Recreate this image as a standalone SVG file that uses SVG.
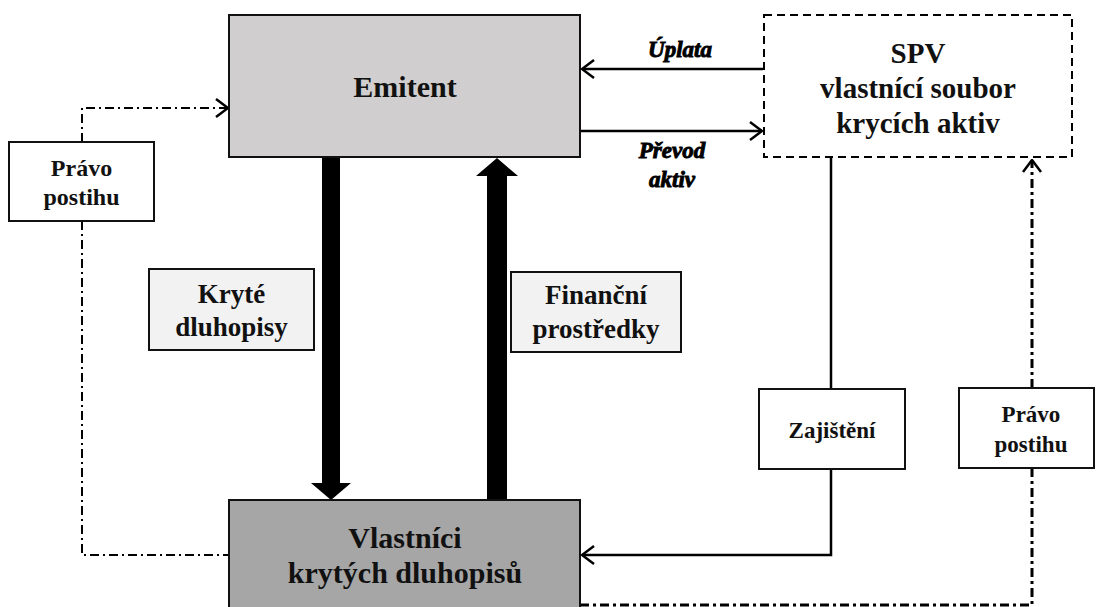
<svg xmlns="http://www.w3.org/2000/svg" width="1097" height="607" viewBox="0 0 1097 607">
  <style>
    .lbl { font-family: 'Liberation Serif', 'Times New Roman', serif; font-weight: 700; fill: #111; text-anchor: middle; }
    .box { stroke: #111; stroke-width: 2; }
    .solid { stroke: #000; stroke-width: 2.5; fill: none; }
    .dd { stroke: #000; stroke-width: 2; fill: none; stroke-dasharray: 9 4 2 4; }
    .dd2 { stroke: #000; stroke-width: 3; fill: none; stroke-dasharray: 9 4 3 4; }
    .it { font-family: 'Liberation Serif', 'Times New Roman', serif; font-weight: 700; font-style: italic; fill: #000; stroke: #000; stroke-width: 0.9; text-anchor: middle; }
  </style>
  <defs>
    <marker id="open" viewBox="0 0 14 20" refX="13" refY="10" markerWidth="14" markerHeight="20" orient="auto" markerUnits="userSpaceOnUse">
      <path d="M1,1 L13,10 L1,19" fill="none" stroke="#000" stroke-width="2.5"/>
    </marker>
  </defs>
  <rect width="1097" height="607" fill="#fff"/>

  <g id="connectors">
    <path d="M322,158 L340,158 L340,483 L351,483 L331,500 L311,483 L322,483 Z" fill="#000"/>
    <path d="M487,500 L507,500 L507,176 L518,176 L497,158 L476,176 L487,176 Z" fill="#000"/>
    <line class="solid" x1="763" y1="69" x2="582" y2="69" marker-end="url(#open)"/>
    <line class="solid" x1="581" y1="131" x2="762" y2="131" marker-end="url(#open)"/>
    <line class="solid" x1="831" y1="158" x2="831" y2="389"/>
    <polyline class="solid" points="831,469 831,555 582,555" marker-end="url(#open)"/>
    <polyline class="dd" points="82,142 82,108 228,108" marker-end="url(#open)"/>
    <polyline class="dd" points="82,221 82,555 229,555"/>
    <line class="dd2" x1="1032" y1="388" x2="1032" y2="160" marker-end="url(#open)"/>
    <polyline class="dd2" points="1032,468 1032,605 581,605"/>
  </g>

  <g id="emitent">
    <rect class="box" x="229" y="15" width="351" height="142" fill="#d0cece"/>
    <text class="lbl" x="405" y="97" font-size="30">Emitent</text>
  </g>

  <g id="spv">
    <rect x="764" y="15" width="308" height="142" fill="#fff" stroke="#000" stroke-width="2" stroke-dasharray="8 5"/>
    <text class="lbl" x="918" y="63" font-size="29">SPV</text>
    <text class="lbl" x="918" y="98" font-size="29">vlastnící soubor</text>
    <text class="lbl" x="918" y="133" font-size="29">krycích aktiv</text>
  </g>

  <g id="uplata-label">
    <text class="it" x="680" y="57" font-size="23">Úplata</text>
  </g>
  <g id="prevod-label">
    <text class="it" x="672" y="158" font-size="23">Převod</text>
    <text class="it" x="672" y="187" font-size="23">aktiv</text>
  </g>

  <g id="pravo-left">
    <rect class="box" x="9" y="142" width="145" height="79" fill="#fff"/>
    <text class="lbl" x="81.5" y="176" font-size="24">Právo</text>
    <text class="lbl" x="81.5" y="205" font-size="24">postihu</text>
  </g>

  <g id="kryte">
    <rect class="box" x="149" y="269" width="165" height="81" fill="#f2f2f2"/>
    <text class="lbl" x="231.5" y="303" font-size="27">Kryté</text>
    <text class="lbl" x="231.5" y="336" font-size="27">dluhopisy</text>
  </g>

  <g id="financni">
    <rect class="box" x="511" y="272" width="170" height="80" fill="#f2f2f2"/>
    <text class="lbl" x="596" y="304" font-size="27">Finanční</text>
    <text class="lbl" x="596" y="338" font-size="27">prostředky</text>
  </g>

  <g id="zajisteni">
    <rect class="box" x="759" y="389" width="146" height="80" fill="#fff"/>
    <text class="lbl" x="832" y="438" font-size="23">Zajištění</text>
  </g>

  <g id="pravo-right">
    <rect class="box" x="959" y="388" width="135" height="80" fill="#fff"/>
    <text class="lbl" x="1031" y="422" font-size="23">Právo</text>
    <text class="lbl" x="1031" y="452" font-size="23">postihu</text>
  </g>

  <g id="vlastnici">
    <rect class="box" x="229" y="500" width="351" height="120" fill="#a6a6a6"/>
    <text class="lbl" x="405" y="548" font-size="30">Vlastníci</text>
    <text class="lbl" x="405" y="583" font-size="30">krytých dluhopisů</text>
  </g>
</svg>
